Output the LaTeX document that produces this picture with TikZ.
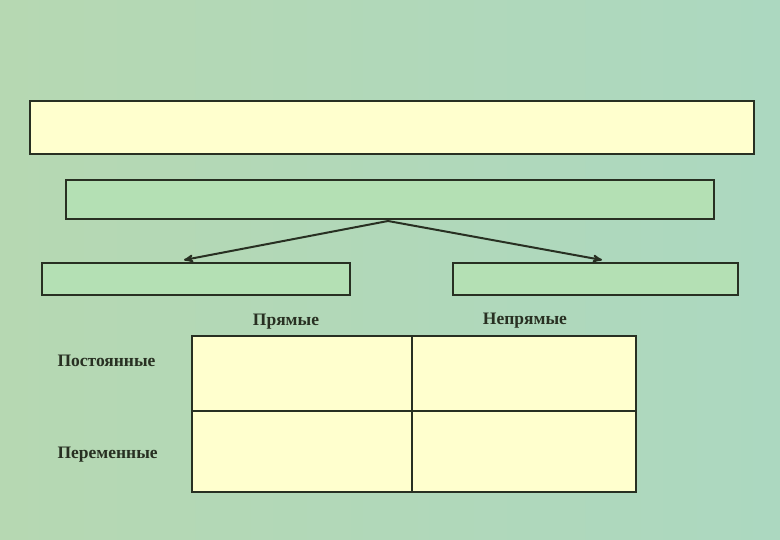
\documentclass[tikz,border=0pt]{standalone}
\usepackage{fontspec}
\setmainfont{Liberation Serif}
\usepackage{tikz}
\usetikzlibrary{positioning, arrows}

\definecolor{bgleft}{RGB}{182,216,178}
\definecolor{bgright}{RGB}{172,216,192}
\definecolor{paleyellow}{RGB}{255,255,206}
\definecolor{boxgreen}{RGB}{180,224,180}
\definecolor{inkdark}{RGB}{40,48,34}

\begin{document}
\begin{tikzpicture}[
        x=1pt, y=-1pt,
        >=stealth',
        frame/.style={draw=inkdark, line width=2pt, outer sep=0pt, inner sep=0pt},
        yellowbox/.style={frame, fill=paleyellow},
        greenbox/.style={frame, fill=boxgreen},
        cell/.style={yellowbox},
        link/.style={->, draw=inkdark, line width=2pt, shorten >=0pt},
        label/.style={text=inkdark, font=\fontsize{17.5}{19}\selectfont\bfseries}
    ]

        % Background
        \shade[left color=bgleft, right color=bgright] (0,0) rectangle (780,540);
        \useasboundingbox (0,0) rectangle (780,540);

        % Boxes
        \node[yellowbox, minimum width=724pt, minimum height=53pt] (top) at (392,127.5) {};
        \node[greenbox, minimum width=648pt, minimum height=39pt] (mid) at (390,199.5) {};
        \node[greenbox, minimum width=308pt, minimum height=32pt] (left) at (196,279) {};
        \node[greenbox, minimum width=285pt, minimum height=32pt] (right) at (595.5,279) {};

        % Arrows
        \coordinate (fork) at (388,221);
        \coordinate (tipL) at (184,260);
        \coordinate (tipR) at (602,260);
        \draw[link] (fork) -- (tipL);
        \draw[link] (fork) -- (tipR);

        % Table
        \node[cell, minimum width=220pt, minimum height=75pt] (c11) at (302,373.5) {};
        \node[cell, minimum width=224pt, minimum height=75pt, right=0pt of c11] (c12) {};
        \node[cell, minimum width=220pt, minimum height=81pt, below=0pt of c11] (c21) {};
        \node[cell, minimum width=224pt, minimum height=81pt, right=0pt of c21] (c22) {};

        % Headings
        \node[label] (direct) at (286,322) {Прямые};
        \node[label] (indirect) at (525,321) {Непрямые};
        \node[label, anchor=west] (const) at (54,361) {Постоянные};
        \node[label, anchor=west] (var) at (54,455) {Переменные};

    \end{tikzpicture}
\end{document}
